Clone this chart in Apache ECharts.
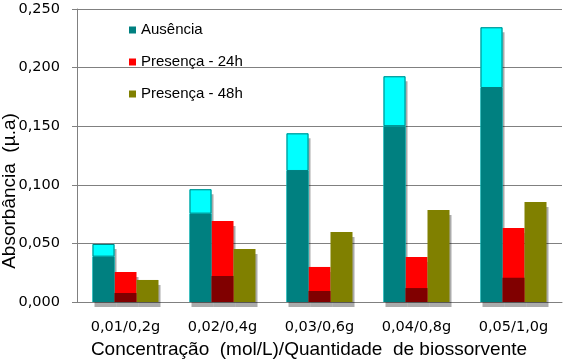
<!DOCTYPE html>
<html>
<head>
<meta charset="utf-8">
<script src="https://cdn.jsdelivr.net/npm/echarts@6/dist/echarts.min.js"></script>
<style>
html,body{margin:0;padding:0;background:#fff;}
#c{width:571px;height:361px;}
</style>
</head>
<body>
<div id="c"></div>
<script>
var categories = ['0,01/0,2g', '0,02/0,4g', '0,03/0,6g', '0,04/0,8g', '0,05/1,0g'];
var ausenciaTotal = [0.0495, 0.0962, 0.1439, 0.1926, 0.2344];
var ausenciaInner = [0.0387, 0.0754, 0.1118, 0.1500, 0.1826];
var presenca24Total = [0.0256, 0.0691, 0.0299, 0.0384, 0.0631];
var presenca24Inner = [0.0077, 0.0222, 0.0094, 0.0119, 0.0207];
var presenca48 = [0.0188, 0.0452, 0.0597, 0.0785, 0.0853];
var yTicks = [0, 0.05, 0.10, 0.15, 0.20, 0.25];
var yTitle = 'Absorbância  (µ.a)';
var xTitle = 'Concentração  (mol/L)/Quantidade  de biossorvente';

var ausenciaTop = ausenciaTotal.map(function (t, i) { return +(t - ausenciaInner[i]).toFixed(4); });

var shadow = {shadowColor: 'rgba(0,0,0,0.33)', shadowOffsetX: 2, shadowOffsetY: 5, shadowBlur: 0};
function ext(a, b) { var o = {}; for (var k in a) o[k] = a[k]; for (var k2 in b) o[k2] = b[k2]; return o; }

var chart = echarts.init(document.getElementById('c'), null, {renderer: 'canvas'});
chart.setOption({
  animation: false,
  backgroundColor: '#ffffff',
  grid: {left: 77, right: 9, top: 9, bottom: 59, containLabel: false, outerBoundsMode: 'none'},
  legend: {
    orient: 'vertical',
    left: 124, top: 17,
    itemWidth: 7, itemHeight: 7, itemGap: 16,
    textStyle: {fontFamily: 'Liberation Sans, Arial', fontSize: 15, color: '#000', lineHeight: 16},
    itemStyle: {borderWidth: 0, shadowBlur: 0, shadowOffsetX: 0, shadowOffsetY: 0, shadowColor: 'transparent'},
    data: [
      {name: 'Ausência', icon: 'rect', itemStyle: {color: '#008080'}},
      {name: 'Presença - 24h', icon: 'rect', itemStyle: {color: '#ff0000'}},
      {name: 'Presença - 48h', icon: 'rect', itemStyle: {color: '#808000'}}
    ]
  },
  graphic: [{
    type: 'text',
    x: 10, y: 191,
    rotation: Math.PI / 2,
    style: {text: yTitle, fontFamily: 'Liberation Sans, Arial', fontSize: 19, fill: '#000', align: 'center', verticalAlign: 'middle'}
  }],
  xAxis: [{
    type: 'category',
    data: categories,
    axisLine: {lineStyle: {color: '#808080', width: 1}},
    axisTick: {show: false},
    axisLabel: {fontFamily: 'DejaVu Sans', fontSize: 14.5, color: '#000', margin: 18},
    name: xTitle,
    nameLocation: 'middle',
    nameGap: 33,
    nameTextStyle: {fontFamily: 'Liberation Sans, Arial', fontSize: 19, color: '#000', padding: [0, 21, 0, 0]}
  }, {
    type: 'category',
    data: categories,
    show: false
  }],
  yAxis: {
    type: 'value',
    min: yTicks[0], max: yTicks[yTicks.length - 1], interval: 0.05,
    axisLine: {show: true, lineStyle: {color: '#808080', width: 1}},
    axisTick: {show: true, length: 5, lineStyle: {color: '#808080'}},
    splitLine: {show: true, lineStyle: {color: '#808080', width: 1}},
    axisLabel: {
      fontFamily: 'DejaVu Sans', fontSize: 14.5, color: '#000', margin: 17,
      formatter: function (v) { return v.toFixed(3).replace('.', ','); }
    }
  },
  series: [
    {name: 'Ausência', type: 'bar', xAxisIndex: 0, barWidth: 22, barGap: '0%', z: 2,
     itemStyle: ext(shadow, {color: '#00ffff'}), data: ausenciaTotal},
    {name: 'Presença - 24h', type: 'bar', xAxisIndex: 0, barWidth: 22, barGap: '0%', z: 2,
     itemStyle: ext(shadow, {color: '#ff0000'}), data: presenca24Total},
    {name: 'Presença - 48h', type: 'bar', xAxisIndex: 0, barWidth: 22, barGap: '0%', z: 2,
     itemStyle: ext(shadow, {color: '#808000'}), data: presenca48},
    {name: 'Ausência', type: 'bar', xAxisIndex: 1, stack: 'a', barWidth: 22, barGap: '0%', z: 3,
     itemStyle: {color: '#008080'}, data: ausenciaInner},
    {name: 'Ausência', type: 'bar', xAxisIndex: 1, stack: 'a', barWidth: 22, barGap: '0%', z: 3,
     itemStyle: {color: '#00ffff', borderColor: '#008080', borderWidth: 1}, data: ausenciaTop},
    {name: 'Presença - 24h', type: 'bar', xAxisIndex: 1, stack: 'b', barWidth: 22, barGap: '0%', z: 3,
     itemStyle: {color: '#800000'}, data: presenca24Inner},
    {name: 'vazio', type: 'bar', xAxisIndex: 1, stack: 'c', barWidth: 22, barGap: '0%', z: 3,
     itemStyle: {color: 'transparent'}, data: categories.map(function () { return '-'; })}
  ]
});
</script>
</body>
</html>
